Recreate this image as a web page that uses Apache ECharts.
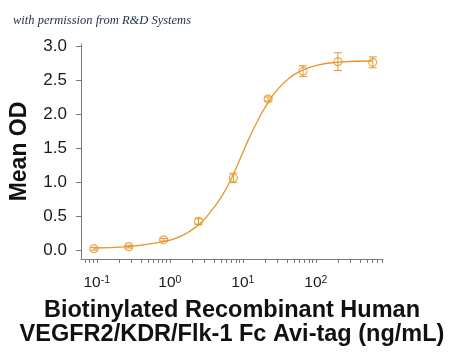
<!DOCTYPE html>
<html>
<head>
<meta charset="utf-8">
<script src="https://cdn.jsdelivr.net/npm/echarts@6/dist/echarts.min.js"></script>
<style>
html,body{margin:0;padding:0;background:#fff;}
#chart{width:450px;height:358px;}
</style>
</head>
<body>
<div id="chart"></div>
<script>
// Measured points (concentration ng/mL, mean OD, error)
var conc = [0.0914, 0.274, 0.823, 2.47, 7.41, 22.2, 66.7, 200, 600];
var meanOD = [0.02, 0.05, 0.15, 0.42, 1.06, 2.22, 2.63, 2.77, 2.76];
var errOD = [0.02, 0.02, 0.02, 0.04, 0.07, 0.03, 0.08, 0.13, 0.08];

// Fitted curve
var curveConc = [0.0914, 0.27, 0.787, 1.32, 2.34, 3.37, 5.2, 7.1, 9.68, 11.9, 16.3, 21.6, 30.3, 45.9, 64.1, 105, 186, 600];
var curveOD = [0.03, 0.05, 0.12, 0.19, 0.35, 0.52, 0.80, 1.07, 1.40, 1.62, 1.92, 2.15, 2.37, 2.55, 2.64, 2.72, 2.76, 2.78];

// Axis ticks
var yTicks = [0, 0.5, 1.0, 1.5, 2.0, 2.5, 3.0];
var xDecades = [0.1, 1, 10, 100];
var xRange = [0.0608, 830];
var yRange = [-0.132, 3.03];

var COLOR = '#e8962a';
var AXIS = '#7a7a7a';
var lg = function (v) { return Math.log10(v); };

var xMinor = [];
[0.01, 0.1, 1, 10, 100].forEach(function (d) {
  for (var k = 1; k <= 9; k++) {
    var v = k * d;
    if (v >= xRange[0] && v <= xRange[1]) xMinor.push(lg(v));
  }
});

var pts = conc.map(function (c, i) { return [lg(c), meanOD[i]]; });
var errs = conc.map(function (c, i) { return [lg(c), meanOD[i] - errOD[i], meanOD[i] + errOD[i]]; });
var curve = curveConc.map(function (c, i) { return [lg(c), curveOD[i]]; });

var chart = echarts.init(document.getElementById('chart'), null, {renderer: 'canvas'});
chart.setOption({
  animation: false,
  backgroundColor: '#fff',
  title: {
    text: 'with permission from R&D Systems',
    left: 8, top: 9,
    textStyle: {fontFamily: 'Liberation Serif', fontStyle: 'italic', fontWeight: 'normal', fontSize: 12.5, color: '#1f2b48'}
  },
  grid: {left: 77, right: 67, top: 44, bottom: 99},
  xAxis: {
    type: 'value',
    min: lg(xRange[0]), max: lg(xRange[1]),
    splitLine: {show: false},
    axisLine: {onZero: false, lineStyle: {color: AXIS, width: 1}},
    axisTick: {show: true, customValues: xMinor, length: 4, lineStyle: {color: AXIS, width: 1}},
    axisLabel: {
      customValues: xDecades.map(lg),
      margin: 16,
      formatter: function (v) { return '{b|10}{s|' + Math.round(v) + '}'; },
      rich: {
        b: {fontFamily: 'Liberation Sans', fontSize: 15.5, color: '#1a1a1a', verticalAlign: 'bottom'},
        s: {fontFamily: 'Liberation Sans', fontSize: 10.5, color: '#1a1a1a', verticalAlign: 'top'}
      }
    },
    name: 'Biotinylated Recombinant Human\nVEGFR2/KDR/Flk-1 Fc Avi-tag (ng/mL)',
    nameLocation: 'middle',
    nameGap: 40,
    nameTextStyle: {fontFamily: 'Liberation Sans', fontWeight: 'bold', fontSize: 23.5, lineHeight: 24, color: '#111'}
  },
  yAxis: {
    type: 'value',
    min: yRange[0], max: yRange[1],
    splitLine: {show: false},
    axisLine: {show: true, onZero: false, lineStyle: {color: AXIS, width: 1}},
    axisTick: {show: true, customValues: yTicks, length: 5, lineStyle: {color: AXIS, width: 1}},
    axisLabel: {
      customValues: yTicks,
      margin: 14,
      formatter: function (v) { return v.toFixed(1); },
      fontFamily: 'Liberation Sans', fontSize: 17, color: '#1a1a1a'
    },
    name: 'Mean OD',
    nameLocation: 'middle',
    nameGap: 50,
    nameTextStyle: {fontFamily: 'Liberation Sans', fontWeight: 'bold', fontSize: 23, color: '#111'}
  },
  series: [
    {
      type: 'line',
      data: curve,
      smooth: 0.5,
      showSymbol: false,
      lineStyle: {color: COLOR, width: 1.3},
      z: 2
    },
    {
      type: 'custom',
      data: errs,
      renderItem: function (params, api) {
        var x = api.value(0);
        var lo = api.coord([x, api.value(1)]);
        var hi = api.coord([x, api.value(2)]);
        var w = 4;
        var st = {stroke: COLOR, lineWidth: 1, fill: null};
        return {
          type: 'group',
          children: [
            {type: 'line', shape: {x1: lo[0], y1: lo[1], x2: hi[0], y2: hi[1]}, style: st},
            {type: 'line', shape: {x1: lo[0] - w, y1: lo[1], x2: lo[0] + w, y2: lo[1]}, style: st},
            {type: 'line', shape: {x1: hi[0] - w, y1: hi[1], x2: hi[0] + w, y2: hi[1]}, style: st}
          ]
        };
      },
      z: 3
    },
    {
      type: 'scatter',
      data: pts,
      symbol: 'circle',
      symbolSize: 8,
      itemStyle: {color: 'rgba(255,255,255,0)', borderColor: COLOR, borderWidth: 1.2},
      z: 4
    }
  ]
});
</script>
</body>
</html>
